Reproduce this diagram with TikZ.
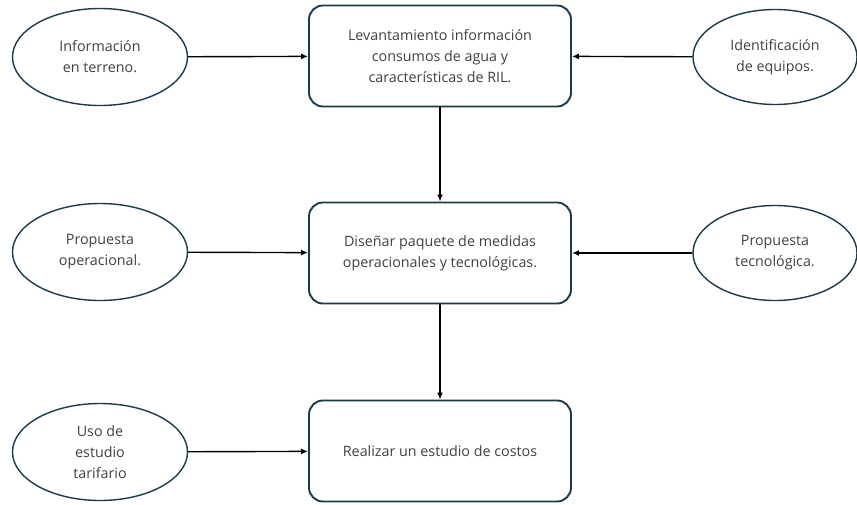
\documentclass[tikz,border=0pt]{standalone}
\usepackage{fontspec}
\setmainfont{Open Sans}
\usetikzlibrary{shapes.geometric,arrows.meta}
\definecolor{edge}{HTML}{1C3A4A}
\definecolor{txt}{HTML}{404040}
\begin{document}
\begin{tikzpicture}[x=1pt,y=-1pt,
  box/.style={draw=edge,line width=1.9pt,rounded corners=14pt,minimum width=262pt,minimum height=101pt,align=center,text=txt,font=\fontsize{14.3}{21}\selectfont,inner sep=0pt},
  oval/.style={draw=edge,line width=1.4pt,ellipse,minimum width=175pt,minimum height=97pt,align=center,text=txt,font=\fontsize{14.3}{21}\selectfont,inner sep=0pt},
  arr/.style={line width=1.4pt,-{Latex[length=7pt,width=6pt]}}]
\useasboundingbox (0,0) rectangle (857,504);
\node[box] (b1) at (440,56) {Levantamiento información\\consumos de agua y\\características de RIL.};
\node[box] (b2) at (440,253) {Diseñar paquete de medidas\\operacionales y tecnológicas.};
\node[box] (b3) at (440,451) {Realizar un estudio de costos};
\node[oval] (l1) at (100,57) {Información\\en terreno.};
\node[oval] (l2) at (100,252) {Propuesta\\operacional.};
\node[oval] (l3) at (100,452) {Uso de\\estudio\\tarifario};
\node[oval,minimum width=164pt,minimum height=95pt] (r1) at (775,57) {Identificación\\de equipos.};
\node[oval,minimum width=164pt,minimum height=95pt] (r2) at (775,253) {Propuesta\\tecnológica.};
\draw[arr] (l1) -- (b1);
\draw[arr] (l2) -- (b2);
\draw[arr] (l3) -- (b3);
\draw[arr] (r1) -- (b1);
\draw[arr] (r2) -- (b2);
\draw[arr] (b1) -- (b2);
\draw[arr] (b2) -- (b3);
\end{tikzpicture}
\end{document}
